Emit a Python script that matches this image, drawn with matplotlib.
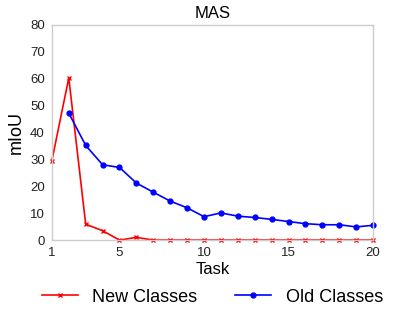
import matplotlib
matplotlib.use('Agg')
import matplotlib.pyplot as plt

plt.rcParams['font.family'] = ['Liberation Sans', 'DejaVu Sans']

tasks = list(range(1, 21))
new_classes = [29.5, 60.3, 5.9, 3.5, 0, 1.0, 0, 0, 0, 0, 0, 0, 0, 0, 0, 0, 0, 0, 0, 0]
old_tasks = list(range(2, 21))
old_classes = [47.2, 35.2, 28.0, 27.0, 21.2, 17.8, 14.5, 12.0, 8.7, 10.1, 8.9, 8.4,
               7.7, 6.9, 6.1, 5.7, 5.7, 4.9, 5.5]
xticks = [1, 5, 10, 15, 20]

fig = plt.figure(figsize=(4.15, 3.11), dpi=100)
ax = fig.add_axes([0.125, 0.228, 0.774, 0.692])

ax.plot(tasks, new_classes, color='red', marker='x', markersize=3, linewidth=1.2,
        label='New Classes', clip_on=False)
ax.plot(old_tasks, old_classes, color='blue', marker='o', markersize=3.5, linewidth=1.2,
        label='Old Classes', clip_on=False)

ax.set_xlim(1, 20)
ax.set_ylim(0, 80)
ax.set_xticks(xticks)
ax.set_yticks(range(0, 81, 10))
ax.tick_params(length=0, labelsize=9.5, colors='#222222', pad=5)
for s in ax.spines.values():
    s.set_color('#cccccc')
    s.set_linewidth(1)

ax.set_title('MAS', fontsize=12, pad=5)
ax.set_xlabel('Task', fontsize=12, labelpad=2)
ax.set_ylabel('mIoU', fontsize=13, labelpad=4)

fig.legend(loc='lower center', bbox_to_anchor=(0.512, -0.035), ncol=2, frameon=False,
           fontsize=13, handlelength=2.0, columnspacing=2.1, handletextpad=0.8)

fig.savefig('out.png', dpi=100)
